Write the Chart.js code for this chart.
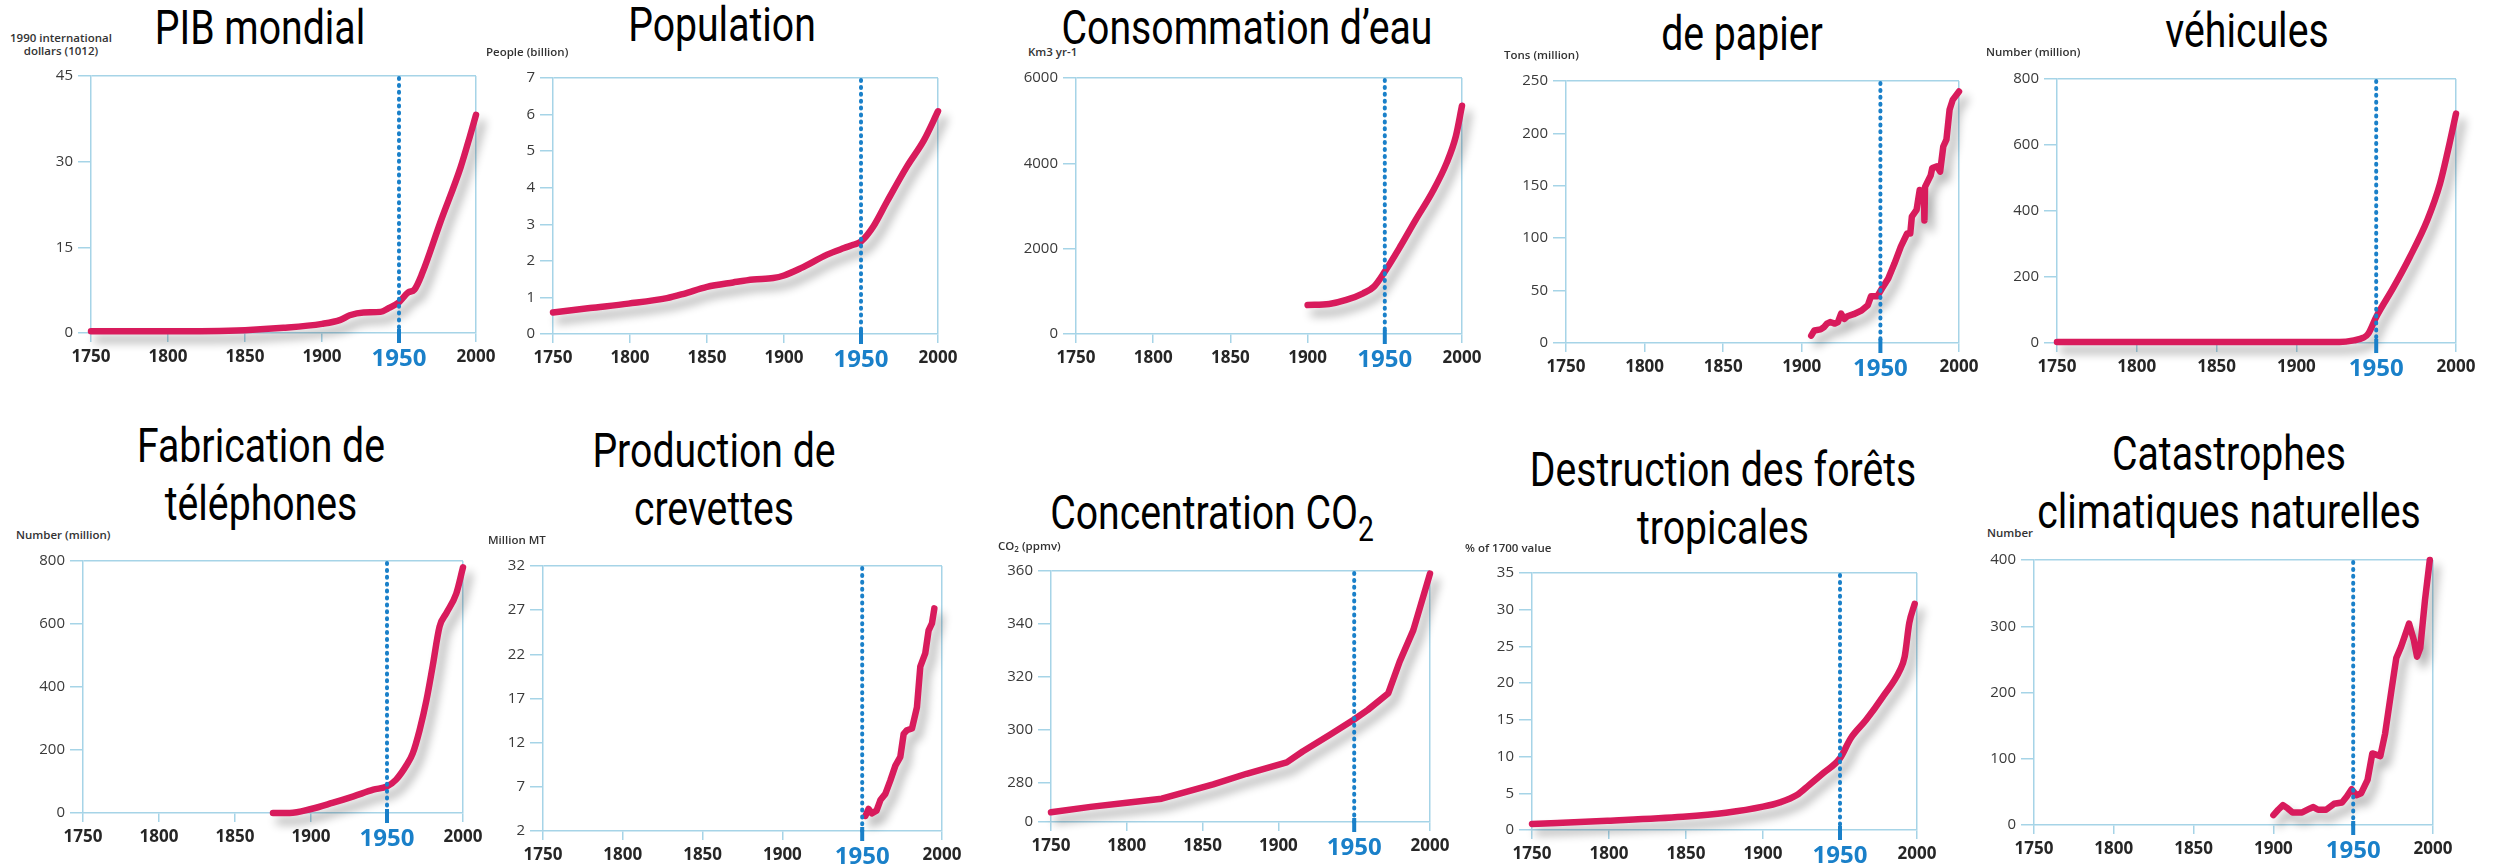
<!DOCTYPE html>
<html>
<head>
<meta charset="utf-8">
<script src="https://cdn.jsdelivr.net/npm/chart.js@4.4.1/dist/chart.umd.min.js"></script>
<style>
	html, body { margin: 0; padding: 0; background: #fff; }
	body { width: 2496px; height: 865px; position: relative; overflow: hidden; }
	canvas { position: absolute; }
	.title {
		position: absolute;
		font-family: Roboto, sans-serif;
		font-size: 49px;
		line-height: 58px;
		color: #000;
		white-space: nowrap;
		text-align: center;
		transform: translateX(-50%) scaleX(0.8);
	}
	.title sub { font-size: 0.72em; vertical-align: -12px; line-height: 0; }
	.unit {
		position: absolute;
		font-family: 'Open Sans', sans-serif;
		font-weight: 600;
		font-size: 11.5px;
		line-height: 12.7px;
		color: #333;
		white-space: nowrap;
		text-align: center;
	}
	.unit sub { font-size: 0.7em; vertical-align: -2px; line-height: 0; }
</style>
</head>
<body>
<script>
// Shared x axis
const X_TICKS = [1750, 1800, 1850, 1900, 1950, 2000];
const HIGHLIGHT_YEAR = 1950;

// PIB mondial (1990 international dollars, 10^12)
const gdpYears = [1750, 1800, 1850, 1875, 1900, 1912, 1918, 1927, 1938, 1943, 1950, 1956, 1960, 1965, 1977, 1990, 1996, 2000];
const gdpValues = [0.3, 0.3, 0.5, 0.9, 1.6, 2.3, 3.1, 3.6, 3.7, 4.3, 5.4, 7.1, 7.6, 10.4, 19.5, 29, 34.4, 38.2];
const gdpTicks = [0, 15, 30, 45];

// Population (billion)
const popYears = [1750, 1774, 1799, 1824, 1835, 1850, 1867, 1880, 1893, 1900, 1911, 1928, 1939, 1945, 1950, 1958, 1967, 1980, 1991, 2000];
const popValues = [0.59, 0.71, 0.83, 0.98, 1.1, 1.29, 1.41, 1.49, 1.53, 1.6, 1.8, 2.17, 2.35, 2.44, 2.53, 2.94, 3.63, 4.59, 5.31, 6.09];
const popTicks = [0, 1, 2, 3, 4, 5, 6, 7];

// Consommation d'eau (km3 / yr)
const waterYears = [1900, 1914, 1925, 1936, 1943, 1950, 1960, 1970, 1981, 1990, 1996, 2000];
const waterValues = [680, 704, 798, 954, 1111, 1463, 2050, 2675, 3340, 4005, 4631, 5350];
const waterTicks = [0, 2000, 4000, 6000];

// Papier (million tons)
const paperYears = [1906, 1908, 1912, 1914, 1916, 1918, 1921, 1923, 1925, 1927, 1929, 1933, 1938, 1942, 1944, 1948, 1951, 1955, 1959, 1963, 1967, 1969, 1970, 1973, 1975, 1976, 1977.6, 1978, 1978.4, 1982, 1983, 1986, 1988, 1990, 1992, 1994, 1996, 2000];
const paperValues = [7, 12, 13, 15, 18.5, 20, 18.5, 20, 28, 23, 25.5, 27.5, 31, 36, 44.5, 44.5, 52, 61.5, 76, 92, 104.5, 104.5, 120.5, 127, 146, 136.5, 146, 117, 149, 160, 167, 168.5, 163.5, 187.5, 194, 222.5, 232, 240];
const paperTicks = [0, 50, 100, 150, 200, 250];

// Véhicules (million)
const carYears = [1750, 1927, 1936, 1942, 1945, 1950, 1961, 1971, 1982, 1990, 1995, 2000];
const carValues = [3, 3, 8, 16, 28, 79, 170, 260, 372, 483, 584, 695];
const carTicks = [0, 200, 400, 600, 800];

// Téléphones (million)
const phoneYears = [1875, 1886, 1900, 1914, 1928, 1941, 1950, 1956, 1963, 1967, 1971.5, 1976, 1980, 1984.6, 1989, 1995.6, 2000];
const phoneValues = [0, 0, 12.7, 32, 53, 74, 84.5, 106, 153, 190, 264, 359, 465, 592, 634, 697, 780];
const phoneTicks = [0, 200, 400, 600, 800];

// Crevettes (million MT)
const shrimpYears = [1952, 1954, 1956, 1959, 1961.4, 1964.5, 1967.6, 1970.8, 1973.9, 1976, 1978, 1981.2, 1984.3, 1986.4, 1989.5, 1991.6, 1993.7, 1995.2];
const shrimpValues = [3.7, 4.5, 4.0, 4.3, 5.5, 6.2, 7.7, 9.4, 10.4, 13, 13.4, 13.6, 16, 20.6, 22.1, 24.7, 25.5, 27.2];
const shrimpTicks = [2, 7, 12, 17, 22, 27, 32];

// CO2 (ppmv), broken axis: bottom tick reads "0"
const co2Years = [1750, 1776, 1800, 1823, 1835, 1857, 1879, 1905.5, 1916, 1934, 1949.4, 1959, 1972.5, 1980, 1989, 2000];
const co2Values = [269, 271, 272.6, 274.1, 276, 279.5, 283.5, 287.8, 291.9, 298.2, 303.8, 307.6, 313.9, 325.8, 337.7, 359];
const co2Ticks = [265.3, 280, 300, 320, 340, 360];
const co2TickLabels = ['0', '280', '300', '320', '340', '360'];

// Forêts tropicales (% of 1700 value)
const forestYears = [1750, 1799, 1848, 1876, 1900, 1911, 1922, 1930, 1939, 1950, 1957, 1967, 1978, 1989, 1992, 1995, 1998.5];
const forestValues = [0.82, 1.27, 1.82, 2.36, 3.18, 3.77, 4.77, 6.14, 7.73, 9.77, 12.5, 15, 18.2, 21.8, 23.6, 28.2, 30.8];
const forestTicks = [0, 5, 10, 15, 20, 25, 30, 35];

// Catastrophes climatiques naturelles (number)
const disasterYears = [1900, 1903, 1906, 1909, 1912, 1918, 1923, 1925, 1928, 1933, 1938, 1943, 1946, 1949, 1952, 1955, 1959, 1962, 1967, 1970, 1974, 1977, 1980, 1985, 1988, 1990, 1992, 1995, 1998];
const disasterValues = [15, 23, 30, 25, 19, 19, 25, 27, 23, 23, 32, 34, 43, 54, 45, 48, 68, 108, 104, 138, 204, 252, 269, 304, 279, 254, 267, 340, 400];
const disasterTicks = [0, 100, 200, 300, 400];

const RED = '#d81b5c';
const FRAME = '#a6d4e7';
const BLUE = '#1a80c9';

// layout: box = plot area [left, top, right, bottom]; title/unit given by x and baseline
const panels = [
	{ title: 'PIB mondial', tx: 260, ty: 45, unit: '1990 international<br>dollars (1012)', ux: 10, uy: 43,
		box: [91, 76, 476, 333], years: gdpYears, values: gdpValues, ticks: gdpTicks, smooth: true },
	{ title: 'Population', tx: 722, ty: 42, unit: 'People (billion)', ux: 486, uy: 57,
		box: [553, 78, 938, 334], years: popYears, values: popValues, ticks: popTicks, smooth: true },
	{ title: 'Consommation d’eau', tx: 1247, ty: 45, unit: 'Km3 yr-1', ux: 1028, uy: 56.5,
		box: [1076, 78, 1462, 334], years: waterYears, values: waterValues, ticks: waterTicks, smooth: true },
	{ title: 'de papier', tx: 1742, ty: 50.5, unit: 'Tons (million)', ux: 1504, uy: 60,
		box: [1566, 81, 1959, 343], years: paperYears, values: paperValues, ticks: paperTicks, smooth: false },
	{ title: 'véhicules', tx: 2247, ty: 48, unit: 'Number (million)', ux: 1986, uy: 56.5,
		box: [2057, 79, 2456, 343], years: carYears, values: carValues, ticks: carTicks, smooth: true },
	{ title: 'Fabrication de<br>téléphones', tx: 260.5, ty: 462.7, unit: 'Number (million)', ux: 16, uy: 540,
		box: [83, 561, 463, 813], years: phoneYears, values: phoneValues, ticks: phoneTicks, smooth: true },
	{ title: 'Production de<br>crevettes', tx: 714, ty: 468, unit: 'Million MT', ux: 488, uy: 545,
		box: [543, 566, 942, 831], years: shrimpYears, values: shrimpValues, ticks: shrimpTicks, smooth: false },
	{ title: 'Concentration CO<sub>2</sub>', tx: 1212, ty: 530, unit: 'CO<sub>2</sub> (ppmv)', ux: 998, uy: 550.5,
		box: [1051, 571, 1430, 822], years: co2Years, values: co2Values, ticks: co2Ticks, tickLabels: co2TickLabels, smooth: false },
	{ title: 'Destruction des forêts<br>tropicales', tx: 1723, ty: 486.7, unit: '% of 1700 value', ux: 1465, uy: 553,
		box: [1532, 573, 1917, 830], years: forestYears, values: forestValues, ticks: forestTicks, smooth: true },
	{ title: 'Catastrophes<br>climatiques naturelles', tx: 2228.5, ty: 470.7, unit: 'Number', ux: 1987, uy: 538,
		box: [2034, 560, 2433, 825], years: disasterYears, values: disasterValues, ticks: disasterTicks, smooth: false }
];

const Y_W = 80, PAD_T = 14, PAD_R = 40, X_H = 50;

// soft drop shadow under the red curve
const shadowPlugin = {
	id: 'lineShadow',
	beforeDatasetDraw(chart) {
		const c = chart.ctx;
		c.save();
		c.shadowColor = 'rgba(0,0,0,0.32)';
		c.shadowBlur = 10;
		c.shadowOffsetX = 6;
		c.shadowOffsetY = 8;
	},
	afterDatasetDraw(chart) {
		chart.ctx.restore();
	}
};

// dotted blue marker at 1950
const markerPlugin = {
	id: 'yearMarker',
	afterDatasetsDraw(chart) {
		const { ctx, chartArea, scales } = chart;
		const x = scales.x.getPixelForValue(HIGHLIGHT_YEAR);
		ctx.save();
		ctx.strokeStyle = BLUE;
		ctx.lineWidth = 4;
		ctx.lineCap = 'round';
		ctx.setLineDash([1, 5.9]);
		ctx.beginPath();
		ctx.moveTo(x, chartArea.top + 2);
		ctx.lineTo(x, chartArea.bottom);
		ctx.stroke();
		ctx.setLineDash([]);
		ctx.lineCap = 'butt';
		ctx.beginPath();
		ctx.moveTo(x, chartArea.bottom - 4);
		ctx.lineTo(x, chartArea.bottom + 10);
		ctx.stroke();
		ctx.restore();
	}
};

function addText(cls, html, x, top) {
	const el = document.createElement('div');
	el.className = cls;
	el.innerHTML = html;
	el.style.left = x + 'px';
	el.style.top = top + 'px';
	document.body.appendChild(el);
}

panels.forEach((p) => {
	const [l, t, r, b] = p.box;
	const canvas = document.createElement('canvas');
	canvas.width = (r - l) + Y_W + PAD_R;
	canvas.height = (b - t) + PAD_T + X_H;
	canvas.style.left = (l - Y_W) + 'px';
	canvas.style.top = (t - PAD_T) + 'px';
	document.body.appendChild(canvas);

	const yMin = p.ticks[0];
	const yMax = p.ticks[p.ticks.length - 1];

	new Chart(canvas, {
		type: 'line',
		data: {
			datasets: [{
				data: p.years.map((yr, i) => ({ x: yr, y: p.values[i] })),
				borderColor: RED,
				borderWidth: 6.5,
				pointRadius: 0,
				borderCapStyle: 'round',
				borderJoinStyle: 'round',
				cubicInterpolationMode: p.smooth ? 'monotone' : 'default',
				tension: 0,
				clip: false
			}]
		},
		options: {
			responsive: false,
			animation: false,
			devicePixelRatio: 1,
			layout: { padding: { top: PAD_T, right: PAD_R, left: 0, bottom: 0 } },
			plugins: {
				legend: { display: false },
				tooltip: { enabled: false },
				title: { display: false }
			},
			scales: {
				x: {
					type: 'linear',
					min: X_TICKS[0],
					max: X_TICKS[X_TICKS.length - 1],
					afterBuildTicks: (s) => { s.ticks = X_TICKS.map((v) => ({ value: v })); },
					afterFit: (s) => { s.height = X_H; },
					border: { display: true, color: FRAME, width: 1.5 },
					grid: {
						drawOnChartArea: true,
						lineWidth: 1.5,
						tickLength: 9,
						color: (c) => (c.tick && c.tick.value === X_TICKS[X_TICKS.length - 1] ? FRAME : 'transparent'),
						tickColor: (c) => (c.tick && c.tick.value === HIGHLIGHT_YEAR ? 'transparent' : FRAME)
					},
					ticks: {
						padding: 5,
						maxRotation: 0,
						autoSkip: false,
						color: (c) => (c.tick && c.tick.value === HIGHLIGHT_YEAR ? BLUE : '#262626'),
						font: (c) => (c.tick && c.tick.value === HIGHLIGHT_YEAR
							? { family: 'Open Sans', size: 24, weight: 'bold', lineHeight: 1 }
							: { family: 'Open Sans', size: 17, weight: 'bold' }),
						callback: (v) => String(v)
					}
				},
				y: {
					min: yMin,
					max: yMax,
					afterBuildTicks: (s) => { s.ticks = p.ticks.map((v) => ({ value: v })); },
					afterFit: (s) => { s.width = Y_W; },
					border: { display: true, color: FRAME, width: 1.5 },
					grid: {
						lineWidth: 1.5,
						tickLength: 13,
						color: (c) => (c.tick && c.tick.value === yMax ? FRAME : 'transparent'),
						tickColor: FRAME
					},
					ticks: {
						padding: 5,
						color: '#3a3a3a',
						font: { family: 'Open Sans', size: 15 },
						callback: (v, i) => (p.tickLabels ? p.tickLabels[i] : String(v))
					}
				}
			}
		},
		plugins: [shadowPlugin, markerPlugin]
	});

	addText('title', p.title, p.tx, p.ty - 45.8);
	addText('unit', p.unit, p.ux, p.uy - 10.8);
});
</script>
</body>
</html>
